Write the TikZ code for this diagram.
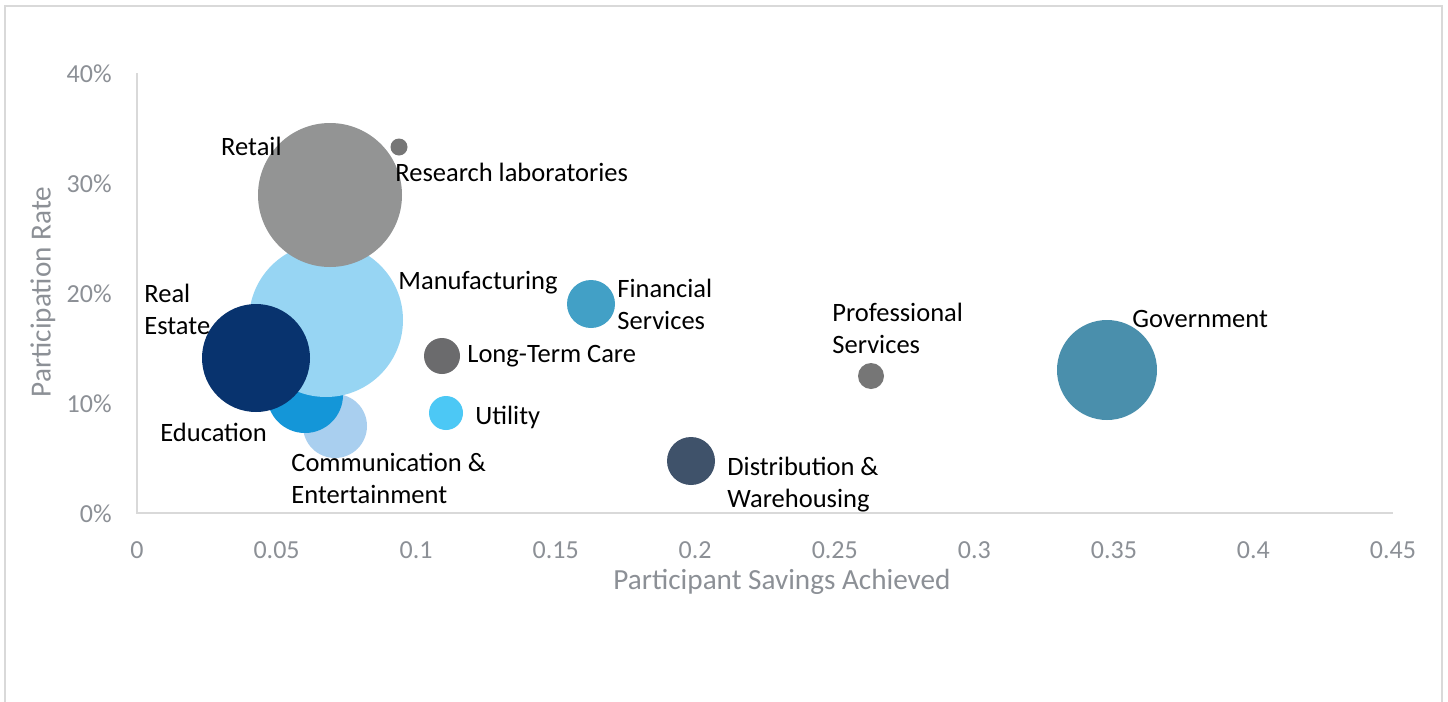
\documentclass[tikz,border=0pt]{standalone}
\usepackage{fontspec}
\setmainfont{Carlito}
\definecolor{axisgray}{HTML}{D9D9D9}
\definecolor{ticktext}{HTML}{8C9096}
\definecolor{cRetail}{HTML}{939494}
\definecolor{cSmall}{HTML}{767676}
\definecolor{cManuf}{HTML}{97D5F3}
\definecolor{cReal}{HTML}{08336E}
\definecolor{cEdu}{HTML}{1496D8}
\definecolor{cComm}{HTML}{A9CFEF}
\definecolor{cLTC}{HTML}{6B6B6D}
\definecolor{cUtil}{HTML}{4CC8F5}
\definecolor{cFin}{HTML}{42A0C6}
\definecolor{cDist}{HTML}{3F526A}
\definecolor{cGov}{HTML}{4A8FAC}
\begin{document}
\begin{tikzpicture}[x=0.5pt,y=-0.5pt,
  bubble/.style={circle,inner sep=0pt,draw=none},
  lbl/.style={font=\fontsize{13.25}{16}\selectfont,text=black,inner sep=0pt,align=left},
  tick/.style={font=\fontsize{13}{16}\selectfont,text=ticktext,inner sep=0pt},
  axtitle/.style={font=\fontsize{14.6}{17}\selectfont,text=ticktext,inner sep=0pt}]
\useasboundingbox (0,0) rectangle (1448,702);
\fill[white] (0,0) rectangle (1448,702);
% outer frame
\draw[axisgray,line width=1pt] (5,720) -- (5,6) -- (1442,6) -- (1442,720);
% axes
\coordinate (yTop) at (137,73);
\coordinate (origin) at (137,513);
\coordinate (xEnd) at (1393,513);
\draw[axisgray,line width=1pt] (yTop) -- (origin) -- (xEnd);
% y tick labels
\node[tick,anchor=east] (y40) at (112,74) {40\%};
\node[tick,anchor=east] (y30) at (112,184) {30\%};
\node[tick,anchor=east] (y20) at (112,294) {20\%};
\node[tick,anchor=east] (y10) at (112,404) {10\%};
\node[tick,anchor=east] (y0) at (112,514) {0\%};
% x tick labels
\node[tick] (x0) at (137,550) {0};
\node[tick] (x1) at (276.6,550) {0.05};
\node[tick] (x2) at (416.1,550) {0.1};
\node[tick] (x3) at (555.7,550) {0.15};
\node[tick] (x4) at (695.2,550) {0.2};
\node[tick] (x5) at (834.8,550) {0.25};
\node[tick] (x6) at (974.3,550) {0.3};
\node[tick] (x7) at (1113.9,550) {0.35};
\node[tick] (x8) at (1253.4,550) {0.4};
\node[tick] (x9) at (1393,550) {0.45};
% axis titles
\node[axtitle] (xtitle) at (782,582) {Participant Savings Achieved};
\node[axtitle,rotate=90] (ytitle) at (43,292) {Participation Rate};
% bubbles (minimum size in pt = radius in px)
\node[bubble,fill=cComm,minimum size=32pt] (comm) at (335,426) {};
\node[bubble,fill=cEdu,minimum size=38pt] (edu) at (305,395) {};
\node[bubble,fill=cManuf,minimum size=77pt] (manuf) at (326,320) {};
\node[bubble,fill=cRetail,minimum size=72pt] (retail) at (330,195) {};
\node[bubble,fill=cReal,minimum size=54pt] (real) at (256,358) {};
\node[bubble,fill=cSmall,minimum size=8.5pt] (research) at (399,147) {};
\node[bubble,fill=cLTC,minimum size=18pt] (ltc) at (442,356) {};
\node[bubble,fill=cUtil,minimum size=17pt] (util) at (446,413) {};
\node[bubble,fill=cFin,minimum size=24pt] (fin) at (591,304) {};
\node[bubble,fill=cDist,minimum size=24pt] (dist) at (691,461) {};
\node[bubble,fill=cSmall,minimum size=13pt] (prof) at (871,376) {};
\node[bubble,fill=cGov,minimum size=50pt] (gov) at (1107,370) {};
% labels
\node[lbl,anchor=east] (tRetail) at (282,146) {Retail};
\node[lbl,anchor=west] (tResearch) at (395,172) {Research laboratories};
\node[lbl,anchor=west] (tManuf) at (398,283) {Manufacturing};
\node[lbl,anchor=west] (tReal) at (144,309) {Real\\Estate};
\node[lbl,anchor=west] (tEdu) at (160,432) {Education};
\node[lbl,anchor=west] (tComm) at (291,478) {Communication \&\\Entertainment};
\node[lbl,anchor=west] (tLTC) at (467,356) {Long-Term Care};
\node[lbl,anchor=west] (tUtil) at (475,417) {Utility};
\node[lbl,anchor=west] (tFin) at (617,304) {Financial\\Services};
\node[lbl,anchor=west] (tDist) at (727,485) {Distribution \&\\Warehousing};
\node[lbl,anchor=west] (tProf) at (832,328) {Professional\\Services};
\node[lbl,anchor=west] (tGov) at (1132,319) {Government};
\end{tikzpicture}
\end{document}
